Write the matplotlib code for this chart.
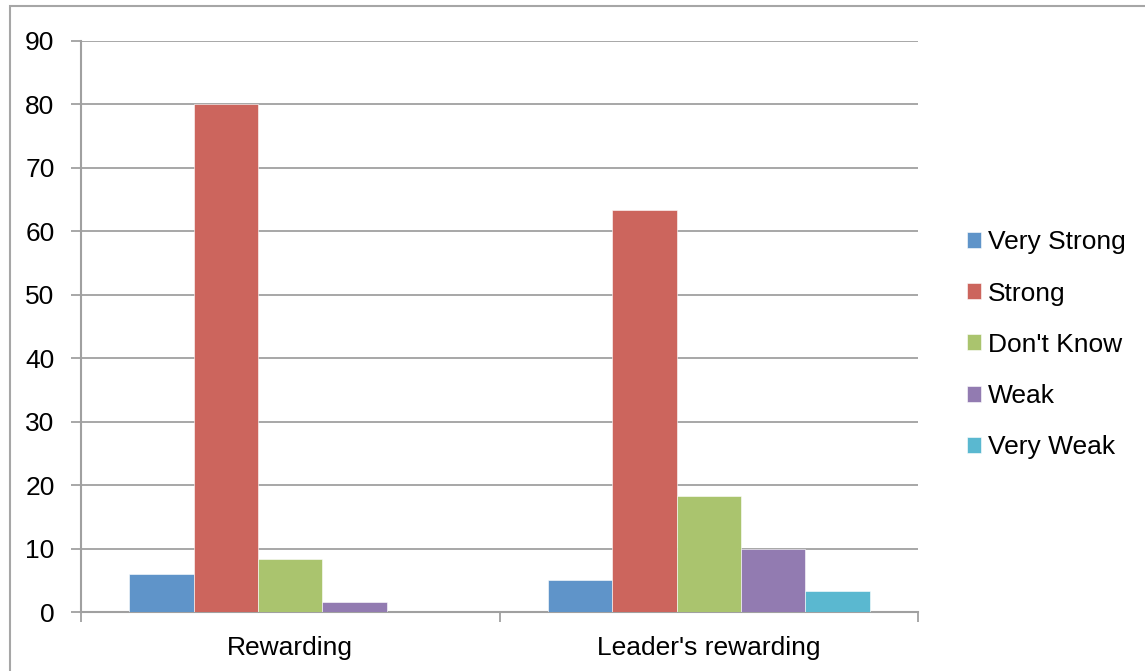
import matplotlib
matplotlib.use("Agg")
import matplotlib.pyplot as plt
import numpy as np
from matplotlib.patches import Rectangle

plt.rcParams["font.family"] = ["Liberation Sans", "DejaVu Sans"]

categories = ["Rewarding", "Leader's rewarding"]
series_names = ["Very Strong", "Strong", "Don't Know", "Weak", "Very Weak"]
very_strong = [6.0, 5.0]
strong = [80.0, 63.3]
dont_know = [8.3, 18.3]
weak = [1.6, 10.0]
very_weak = [0.0, 3.3]
yticks = [0, 10, 20, 30, 40, 50, 60, 70, 80, 90]

series = [very_strong, strong, dont_know, weak, very_weak]
colors_map = ["#5f94c9", "#cc655d", "#aac46e", "#927bb1", "#5ab8d0"]
grid_col = "#a0a0a0"
fs = 19

fig = plt.figure(figsize=(11.45, 6.71), dpi=100)
ax = fig.add_axes([81 / 1145, 1 - 612 / 671, (918 - 81) / 1145, (612 - 41) / 671])

# outer chart border (only top/left visible in the frame)
fig.patches.append(Rectangle((10 / 1145, -0.01), 1.2, 1 - 6 / 671 + 0.01,
                             transform=fig.transFigure, fill=False,
                             edgecolor="#a6a6a6", linewidth=1.5))

bw = 0.154
x = np.arange(len(categories))
for i, (vals, col, name) in enumerate(zip(series, colors_map, series_names)):
    offs = (i - 2) * bw
    ax.bar(x + offs, vals, width=bw, color=col, label=name, zorder=3,
           edgecolor="white", linewidth=0.4)

ax.set_xlim(-0.5, 1.5)
ax.set_ylim(0, 90)
ax.set_yticks(yticks)
ax.set_yticklabels([str(v) for v in yticks], fontsize=fs)
ax.yaxis.grid(True, color=grid_col, linewidth=1.3, zorder=0)
ax.set_axisbelow(True)

ax.set_xticks(x)
ax.set_xticklabels(categories, fontsize=fs)
ax.tick_params(axis="x", length=0, pad=17)
ax.set_xticks([-0.5, 0.5, 1.5], minor=True)
ax.tick_params(axis="x", which="minor", length=7, width=1.3, color=grid_col, direction="out")
ax.tick_params(axis="y", length=7, width=1.3, color=grid_col, direction="out", pad=12)

for s in ["top", "right"]:
    ax.spines[s].set_visible(False)
for s in ["left", "bottom"]:
    ax.spines[s].set_color(grid_col)
    ax.spines[s].set_linewidth(1.5)

leg = ax.legend(loc="center left", bbox_to_anchor=(1.058, 0.468), frameon=False,
                fontsize=fs, handlelength=0.55, handleheight=0.55,
                handletextpad=0.25, labelspacing=1.03, borderaxespad=0,
                borderpad=0)

fig.savefig("out.png", dpi=100)
